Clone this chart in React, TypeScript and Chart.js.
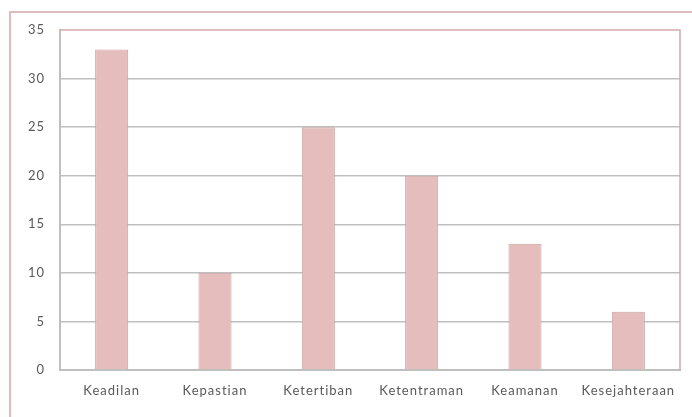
import React, { useEffect, useRef } from "react";
import { Chart, registerables } from "chart.js";

Chart.register(...registerables);

const categories = ["Keadilan", "Kepastian", "Ketertiban", "Ketentraman", "Keamanan", "Kesejahteraan"];
const values = [33, 10, 25, 20, 13, 6];
const yMin = 0;
const yMax = 35;
const yStep = 5;

const PINK_LINE = "#d2adad";
const OUTER = "#dcbcbc";
const GRID = "#bfbfbf";

const frame = {
  id: "frame",
  beforeDraw(chart: any) {
    const { ctx, width, height } = chart;
    ctx.save();
    ctx.fillStyle = "#fff";
    ctx.fillRect(0, 0, width, height);
    ctx.strokeStyle = OUTER;
    ctx.lineWidth = 2;
    ctx.beginPath();
    ctx.moveTo(10, height + 5);
    ctx.lineTo(10, 12);
    ctx.lineTo(width + 5, 12);
    ctx.stroke();
    ctx.restore();
    ctx.letterSpacing = "1px";
  },
  afterDraw(chart: any) {
    const { ctx, chartArea } = chart;
    ctx.save();
    ctx.strokeStyle = PINK_LINE;
    ctx.lineWidth = 1.5;
    ctx.beginPath();
    ctx.moveTo(chartArea.left, chartArea.top);
    ctx.lineTo(chartArea.right, chartArea.top);
    ctx.lineTo(chartArea.right, chartArea.bottom);
    ctx.stroke();
    ctx.restore();
  },
};

export default function App() {
  const ref = useRef<HTMLCanvasElement>(null);
  useEffect(() => {
    const chart = new Chart(ref.current!, {
      type: "bar",
      data: {
        labels: categories,
        datasets: [
          {
            data: values,
            backgroundColor: "#e6bdbd",
            borderColor: "#c9a3a3",
            borderWidth: 1,
            barPercentage: 0.32,
            categoryPercentage: 1,
          },
        ],
      },
      options: {
        animation: false,
        responsive: false,
        maintainAspectRatio: false,
        layout: { padding: { left: 0, top: 30, right: 12, bottom: 0 } },
        plugins: { legend: { display: false }, tooltip: { enabled: false } },
        scales: {
          x: {
            grid: { display: false, drawTicks: false },
            border: { color: GRID, width: 2 },
            ticks: { color: "#5a5a5a", font: { family: "Lato", size: 13 }, padding: 13, maxRotation: 0 },
            afterFit: (s: any) => { s.height = 47; },
          },
          y: {
            min: yMin,
            max: yMax,
            grid: {
              color: (c: any) => (c.tick && c.tick.value === yMax ? "rgba(0,0,0,0)" : GRID),
              lineWidth: 1.5,
              drawTicks: false,
            },
            border: { color: GRID, width: 2 },
            ticks: { stepSize: yStep, color: "#5a5a5a", font: { family: "Lato", size: 13 }, padding: 15 },
            afterFit: (s: any) => { s.width = 60; },
          },
        },
      },
      plugins: [frame],
    });
    return () => chart.destroy();
  }, []);
  return (
    <div style={{ position: "fixed", left: 0, top: 0, width: 692, height: 417, background: "#fff", overflow: "hidden" }}>
      <canvas ref={ref} width={692} height={417} style={{ position: "absolute", left: 0, top: 0, display: "block" }} />
    </div>
  );
}
